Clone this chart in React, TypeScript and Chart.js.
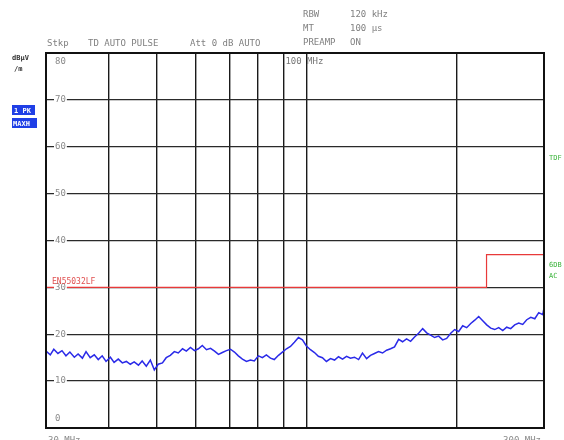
import React, { useEffect, useRef } from "react";
import { Chart, registerables } from "chart.js";

Chart.register(...registerables);

// Frequency grid of the sweep (MHz) – log axis from 30 to 300 MHz
const gridFreqs = [30, 40, 50, 60, 70, 80, 90, 100, 200, 300];
// Level grid (dBµV/m)
const levelTicks = [80, 70, 60, 50, 40, 30, 20, 10, 0];

// Sweep points (MHz)
const traceFreqs = [
  30, 30.6, 31.1, 31.7, 32.3, 32.9, 33.5, 34.2, 34.8, 35.5,
  36.1, 36.8, 37.5, 38.2, 38.9, 39.6, 40.4, 41.1, 41.9, 42.7,
  43.5, 44.3, 45.1, 46.0, 46.8, 47.7, 48.6, 49.5, 50.4, 51.4,
  52.3, 53.3, 54.3, 55.3, 56.4, 57.4, 58.5, 59.6, 60.7, 61.8,
  63.0, 64.2, 65.4, 66.6, 67.8, 69.1, 70.4, 71.7, 73.0, 74.4,
  75.8, 77.2, 78.6, 80.1, 81.6, 83.1, 84.7, 86.2, 87.9, 89.5,
  91.2, 92.9, 94.6, 96.4, 98.2, 100.0, 101.9, 103.8, 105.7, 107.7,
  109.7, 111.8, 113.9, 116.0, 118.2, 120.4, 122.6, 124.9, 127.3, 129.6,
  132.1, 134.5, 137.0, 139.6, 142.2, 144.9, 147.6, 150.3, 153.2, 156.0,
  158.9, 161.9, 164.9, 168.0, 171.2, 174.4, 177.6, 180.9, 184.3, 187.8,
  191.3, 194.9, 198.5, 202.2, 206.0, 209.8, 213.8, 217.8, 221.8, 226.0,
  230.2, 234.5, 238.9, 243.3, 247.9, 252.5, 257.2, 262.0, 266.9, 271.9,
  277.0, 282.2, 287.5, 292.8, 298.3, 300,
];

// Peak max-hold trace (dBµV/m)
const traceLevels = [
  16.4, 15.6, 16.8, 15.9, 16.5, 15.4, 16.2, 15.1, 15.8, 14.9,
  16.3, 15.0, 15.6, 14.6, 15.4, 14.2, 15.1, 14.0, 14.7, 13.9,
  14.2, 13.6, 14.1, 13.4, 14.3, 13.2, 14.5, 12.4, 13.6, 13.9,
  15.0, 15.5, 16.3, 16.0, 16.9, 16.4, 17.2, 16.5, 16.9, 17.6,
  16.7, 17.0, 16.4, 15.7, 16.1, 16.5, 16.8, 16.2, 15.4, 14.7,
  14.2, 14.5, 14.3, 15.4, 15.0, 15.6, 14.9, 14.6, 15.5, 16.2,
  16.9, 17.4, 18.3, 19.3, 18.8, 17.5, 16.7, 16.1, 15.3, 15.0,
  14.2, 14.8, 14.5, 15.2, 14.7, 15.3, 14.9, 15.1, 14.6, 16.0,
  14.8, 15.5, 15.9, 16.3, 16.0, 16.6, 16.9, 17.3, 18.9, 18.4,
  19.0, 18.5, 19.4, 20.2, 21.2, 20.3, 19.8, 19.3, 19.6, 18.8,
  19.1, 20.2, 21.0, 20.6, 21.8, 21.4, 22.3, 23.0, 23.8, 22.9,
  22.0, 21.3, 21.0, 21.4, 20.8, 21.5, 21.2, 22.0, 22.4, 22.1,
  23.1, 23.6, 23.3, 24.6, 24.2, 25.6,
];

// Limit line: 30 dBµV/m up to 230 MHz, 37 dBµV/m above
const limitFreqs = [30, 230, 230, 300];
const limitLevels = [30, 30, 37, 37];
const limitName = "EN55032LF";

const MONO = '"DejaVu Sans Mono", "Liberation Mono", monospace';

const overlay = {
  id: "analyzerOverlay",
  afterDraw(chart: any) {
    const { ctx, chartArea: a, scales } = chart;
    const xs = scales.x;
    const ys = scales.y;
    ctx.save();

    // Y level labels sitting on the grid lines
    ctx.font = `9px ${MONO}`;
    ctx.textBaseline = "middle";
    ctx.textAlign = "left";
    levelTicks.forEach((v) => {
      let y = ys.getPixelForValue(v);
      const t = String(v);
      if (v === 80) y += 9;
      if (v === 0) y -= 9;
      const w = ctx.measureText(t).width;
      if (v !== 80 && v !== 0) {
        ctx.fillStyle = "#fff";
        ctx.fillRect(a.left + 8, y - 4, w + 2, 8);
      }
      ctx.fillStyle = "#8a8a8a";
      ctx.fillText(t, a.left + 9, y);
    });

    // Limit line name
    ctx.fillStyle = "#e05050";
    ctx.font = `8px ${MONO}`;
    ctx.fillText(limitName, a.left + 6, ys.getPixelForValue(30) - 5);

    // 100 MHz marker label
    ctx.fillStyle = "#777";
    ctx.font = `9px ${MONO}`;
    ctx.fillText("100 MHz", xs.getPixelForValue(100) - 21, a.top + 9);

    // Header settings
    ctx.fillStyle = "#808080";
    ctx.textBaseline = "alphabetic";
    ctx.font = `9px ${MONO}`;
    ctx.fillText("Stkp", 47, 46);
    ctx.fillText("TD AUTO PULSE", 88, 46);
    ctx.fillText("Att 0 dB AUTO", 190, 46);
    ctx.fillText("RBW", 303, 17);
    ctx.fillText("120 kHz", 350, 17);
    ctx.fillText("MT", 303, 31);
    ctx.fillText("100 \u00b5s", 350, 31);
    ctx.fillText("PREAMP", 303, 45);
    ctx.fillText("ON", 350, 45);

    // Unit
    ctx.fillStyle = "#333";
    ctx.font = `bold 7px ${MONO}`;
    ctx.fillText("dB\u00b5V", 12, 60);
    ctx.fillText("/m", 14, 71);

    // Trace info boxes
    ctx.fillStyle = "#1f3fe6";
    ctx.fillRect(12, 105, 23, 10);
    ctx.fillRect(12, 118, 25, 10);
    ctx.fillStyle = "#fff";
    ctx.font = `bold 7px ${MONO}`;
    ctx.fillText("1 PK", 14, 113);
    ctx.fillText("MAXH", 13, 126);

    // Right side indicators
    ctx.fillStyle = "#3cb43c";
    ctx.font = `7px ${MONO}`;
    ctx.fillText("TDF", 549, 160);
    ctx.fillText("6DB", 549, 267);
    ctx.fillText("AC", 549, 278);

    // Sweep span labels
    ctx.fillStyle = "#8a8a8a";
    ctx.font = `9px ${MONO}`;
    ctx.fillText("30 MHz", 48, 443);
    ctx.textAlign = "right";
    ctx.fillText("300 MHz", 541, 443);

    // Diagram frame
    ctx.strokeStyle = "#111";
    ctx.lineWidth = 2;
    ctx.strokeRect(a.left, a.top, a.right - a.left, a.bottom - a.top);
    ctx.restore();
  },
};

export default function App() {
  const ref = useRef<HTMLCanvasElement | null>(null);

  useEffect(() => {
    const prevMargin = document.body.style.margin;
    document.body.style.margin = "0";
    const canvas = ref.current;
    if (!canvas) return;
    const chart = new Chart(canvas, {
      type: "line",
      data: {
        datasets: [
          {
            label: "1 PK MAXH",
            data: traceFreqs.map((f, i) => ({ x: f, y: traceLevels[i] })),
            borderColor: "#2a2ae8",
            borderWidth: 1.5,
            pointRadius: 0,
            tension: 0,
          },
          {
            label: limitName,
            data: limitFreqs.map((f, i) => ({ x: f, y: limitLevels[i] })),
            borderColor: "#e83a3a",
            borderWidth: 1.2,
            pointRadius: 0,
            tension: 0,
          },
        ],
      },
      options: {
        responsive: false,
        animation: false,
        layout: { padding: { left: 46, right: 20, top: 53, bottom: 12 } },
        plugins: {
          legend: { display: false },
          tooltip: { enabled: false },
        },
        scales: {
          x: {
            type: "logarithmic",
            min: 30,
            max: 300,
            afterBuildTicks: (scale: any) => {
              scale.ticks = gridFreqs.map((v) => ({ value: v }));
            },
            ticks: { display: false },
            grid: { color: "#1a1a1a", lineWidth: 1.4, drawTicks: false },
            border: { display: false },
          },
          y: {
            min: 0,
            max: 80,
            ticks: { display: false, stepSize: 10 },
            grid: { color: "#2a2a2a", lineWidth: 1.3, drawTicks: false },
            border: { display: false },
          },
        },
      },
      plugins: [overlay],
    });
    return () => {
      chart.destroy();
      document.body.style.margin = prevMargin;
    };
  }, []);

  return (
    <div style={{ position: "fixed", left: 0, top: 0, width: 564, height: 440, background: "#fff" }}>
      <canvas ref={ref} width={564} height={440} />
    </div>
  );
}
